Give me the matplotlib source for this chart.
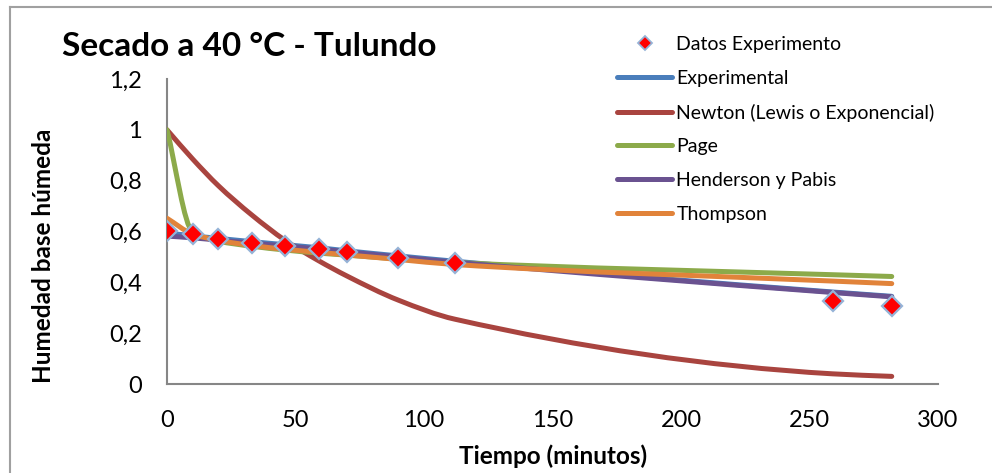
import matplotlib
matplotlib.use("Agg")
import matplotlib.pyplot as plt
from matplotlib.path import Path
from matplotlib.patches import PathPatch
from matplotlib.lines import Line2D
from matplotlib.ticker import FuncFormatter

plt.rcParams['font.family'] = ['Lato', 'DejaVu Sans']

tiempo = [0, 10, 20, 33, 46, 59, 70, 90, 112, 259, 282]
datos = [0.602, 0.592, 0.572, 0.556, 0.544, 0.530, 0.518, 0.497, 0.478, 0.328, 0.306]

experimental = [0.594, 0.583, 0.573, 0.560, 0.548, 0.536, 0.524, 0.504, 0.483, 0.362, 0.345]
newton = [1.0, 0.885, 0.78, 0.665, 0.565, 0.485, 0.425, 0.33, 0.255, 0.04, 0.03]
page = [1.0, 0.598, 0.562, 0.542, 0.527, 0.515, 0.507, 0.492, 0.478, 0.430, 0.423]
henderson = [0.582, 0.575, 0.566, 0.554, 0.543, 0.531, 0.520, 0.500, 0.479, 0.360, 0.343]
thompson = [0.652, 0.590, 0.565, 0.545, 0.530, 0.518, 0.508, 0.490, 0.470, 0.405, 0.395]

series = [
    ("Experimental", experimental, "#4A7EBB"),
    ("Newton (Lewis o Exponencial)", newton, "#A9443F"),
    ("Page", page, "#8CAA4A"),
    ("Henderson y Pabis", henderson, "#6A5290"),
    ("Thompson", thompson, "#E1833A"),
]


def smooth_path(xs, ys):
    # smoothed line: cubic bezier segments with monotone tangents
    n = len(xs)
    d = [(ys[i + 1] - ys[i]) / (xs[i + 1] - xs[i]) for i in range(n - 1)]
    m = [d[0]]
    for i in range(1, n - 1):
        if d[i - 1] * d[i] <= 0:
            m.append(0.0)
        else:
            h0, h1 = xs[i] - xs[i - 1], xs[i + 1] - xs[i]
            w1, w2 = 2 * h1 + h0, h1 + 2 * h0
            m.append((w1 + w2) / (w1 / d[i - 1] + w2 / d[i]))
    m.append(d[-1])
    verts = [(xs[0], ys[0])]
    codes = [Path.MOVETO]
    for i in range(n - 1):
        h = xs[i + 1] - xs[i]
        verts += [(xs[i] + h / 3, ys[i] + m[i] * h / 3),
                  (xs[i + 1] - h / 3, ys[i + 1] - m[i + 1] * h / 3),
                  (xs[i + 1], ys[i + 1])]
        codes += [Path.CURVE4] * 3
    return Path(verts, codes)


fig = plt.figure(figsize=(9.92, 4.73), dpi=100)
ax = fig.add_axes([167 / 992, 1 - 384 / 473, (938 - 167) / 992, (384 - 79) / 473])

handles = []
for i, (name, vals, color) in enumerate(series):
    patch = PathPatch(smooth_path(tiempo, vals), facecolor='none', edgecolor=color,
                      linewidth=3.6, capstyle='round', joinstyle='round', zorder=2 + i)
    ax.add_patch(patch)
    handles.append(Line2D([], [], color=color, linewidth=3.6, solid_capstyle='round', label=name))

ax.plot(tiempo, datos, linestyle='none', marker='D', markersize=10, markerfacecolor='red',
        markeredgecolor='#95B3D7', markeredgewidth=1.6, zorder=10)
marker_handle = Line2D([], [], linestyle='none', marker='D', markersize=7, markerfacecolor='red',
                       markeredgecolor='#95B3D7', markeredgewidth=1.3, label='Datos Experimento')

ax.set_xlim(0, 300)
ax.set_ylim(0, 1.2)
ax.set_xticks([0, 50, 100, 150, 200, 250, 300])
ax.set_yticks([0, 0.2, 0.4, 0.6, 0.8, 1.0, 1.2])
ax.yaxis.set_major_formatter(FuncFormatter(lambda v, p: f"{v:g}".replace('.', ',')))
ax.tick_params(length=0, labelsize=17)
ax.tick_params(axis='x', pad=19)
ax.tick_params(axis='y', pad=18)
for side in ['top', 'right']:
    ax.spines[side].set_visible(False)
for side in ['left', 'bottom']:
    ax.spines[side].set_color('#868686')
    ax.spines[side].set_linewidth(1.5)

ax.set_xlabel('Tiempo (minutos)', fontsize=17.5, fontweight='bold')
ax.set_ylabel('Humedad base húmeda', fontsize=17.5, fontweight='bold')
ax.xaxis.set_label_coords(0.5006, (384 - 444) / 305)
ax.yaxis.set_label_coords((55 - 167) / 771, 0.42)

fig.text(62 / 992, 1 - 47 / 473, 'Secado a 40 °C - Tulundo', fontsize=24, fontweight='bold',
         ha='left', va='center')

fig.legend(handles=[marker_handle] + handles, loc='upper left', bbox_to_anchor=(617 / 992, 1 - 36 / 473),
           frameon=False, fontsize=14, handlelength=2.85, handletextpad=0.2, labelspacing=0.86,
           borderpad=0, borderaxespad=0)

# outer chart border (only left and top visible)
fig.add_artist(Line2D([10 / 992, 10 / 992], [0, 1 - 7 / 473], color='#A0A0A0', linewidth=1.5))
fig.add_artist(Line2D([10 / 992, 1], [1 - 7 / 473, 1 - 7 / 473], color='#A0A0A0', linewidth=1.5))

fig.savefig('out.png', dpi=100)
